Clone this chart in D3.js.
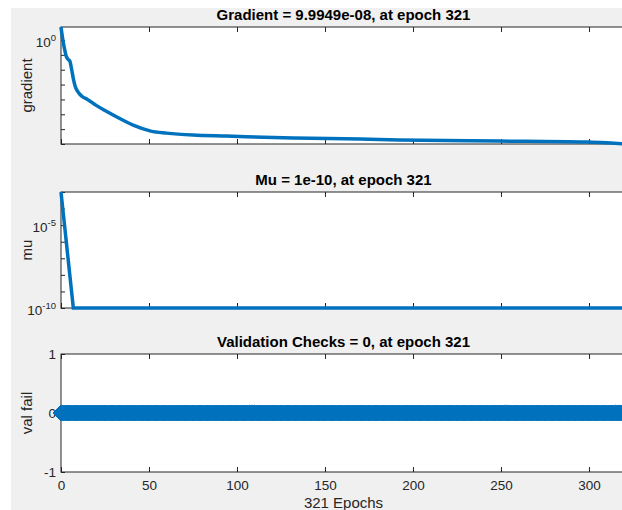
<!DOCTYPE html>
<html lang="en">
<head>
    <meta charset="UTF-8">
    <title>Training Performance</title>
    <script src="https://d3js.org/d3.v7.min.js"></script>
    <style>
        body { margin: 0; background: #fff; font-family: "Liberation Sans", Arial, sans-serif; }
        svg { display: block; }
        .title { font-weight: bold; font-size: 15px; fill: #000; }
        .ylabel, .xlabel { font-size: 15px; fill: #262626; }
        .tick text { font-family: "Liberation Sans", Arial, sans-serif; fill: #262626; }
        .tick line { stroke: #262626; }
    </style>
</head>
<body>
<div id="chart"></div>
<script>
    // ---- data ----
    const epochMax = 321;
    const xTicks = [0, 50, 100, 150, 200, 250, 300];

    const gradEpochs = [0, 1, 2, 3, 4, 5, 6, 7, 8, 10, 12, 15, 20, 25, 32, 41, 51, 60, 75, 94, 132, 170, 192, 249, 298, 321];
    const gradValues = [7.41, 1.12, 0.251, 0.0794, 0.0501, 0.038, 0.0112, 0.00251, 7.94e-4, 2.82e-4, 1.58e-4, 1e-4,
        3.98e-5, 1.78e-5, 6.3e-6, 1.86e-6, 7.4e-7, 5.4e-7, 3.98e-7, 3.4e-7, 2.5e-7, 2.14e-7, 1.86e-7, 1.58e-7, 1.35e-7, 9.9949e-8];

    const muEpochs = [0, 1, 2, 3, 4, 5, 6, 7, 321];
    const muValues = [1e-3, 1e-4, 1e-5, 1e-6, 1e-7, 1e-8, 1e-9, 1e-10, 1e-10];

    // one value per epoch, 0..321
    const valFail = [
        0,0,0,0,0,0,0,0,0,0, 0,0,0,0,0,0,0,0,0,0, 0,0,0,0,0,0,0,0,0,0, 0,0,0,0,0,0,0,0,0,0, 0,0,0,0,0,0,0,0,0,0,
        0,0,0,0,0,0,0,0,0,0, 0,0,0,0,0,0,0,0,0,0, 0,0,0,0,0,0,0,0,0,0, 0,0,0,0,0,0,0,0,0,0, 0,0,0,0,0,0,0,0,0,0,
        0,0,0,0,0,0,0,0,0,0, 0,0,0,0,0,0,0,0,0,0, 0,0,0,0,0,0,0,0,0,0, 0,0,0,0,0,0,0,0,0,0, 0,0,0,0,0,0,0,0,0,0,
        0,0,0,0,0,0,0,0,0,0, 0,0,0,0,0,0,0,0,0,0, 0,0,0,0,0,0,0,0,0,0, 0,0,0,0,0,0,0,0,0,0, 0,0,0,0,0,0,0,0,0,0,
        0,0,0,0,0,0,0,0,0,0, 0,0,0,0,0,0,0,0,0,0, 0,0,0,0,0,0,0,0,0,0, 0,0,0,0,0,0,0,0,0,0, 0,0,0,0,0,0,0,0,0,0,
        0,0,0,0,0,0,0,0,0,0, 0,0,0,0,0,0,0,0,0,0, 0,0,0,0,0,0,0,0,0,0, 0,0,0,0,0,0,0,0,0,0, 0,0,0,0,0,0,0,0,0,0,
        0,0,0,0,0,0,0,0,0,0, 0,0,0,0,0,0,0,0,0,0, 0,0
    ];

    const gradTicks = [1e-7, 1e-6, 1e-5, 1e-4, 1e-3, 1e-2, 1e-1, 1];
    const gradTickLabels = { 1: ["10", "0"] };
    const muTicks = [1e-10, 1e-9, 1e-8, 1e-7, 1e-6, 1e-5, 1e-4, 1e-3];
    const muTickLabels = { 1e-5: ["10", "-5"], 1e-10: ["10", "-10"] };
    const valTicks = [-1, 0, 1];

    const titles = ["Gradient = 9.9949e-08, at epoch 321", "Mu = 1e-10, at epoch 321", "Validation Checks = 0, at epoch 321"];
    const yLabels = ["gradient", "mu", "val fail"];

    // ---- layout ----
    const width = 622, height = 510;
    const blue = "#0072bd", axisCol = "#262626";
    const left = 61, right = 626;

    const svg = d3.select("#chart").append("svg")
        .attr("width", width)
        .attr("height", height);

    svg.append("rect")
        .attr("x", 11).attr("y", 8)
        .attr("width", width - 11).attr("height", height - 8)
        .attr("fill", "#f0f0f0");

    const x = d3.scaleLinear().domain([0, epochMax]).range([left, right]);

    const panels = [
        { top: 27, bottom: 144, y: d3.scaleLog().domain([9.9949e-8, 7.5]), ticks: gradTicks, labels: gradTickLabels },
        { top: 192, bottom: 308, y: d3.scaleLog().domain([1e-10, 1e-3]), ticks: muTicks, labels: muTickLabels },
        { top: 354, bottom: 472, y: d3.scaleLinear().domain([-1, 1]), ticks: valTicks, labels: null }
    ];

    panels.forEach((p, i) => {
        p.y.range([p.bottom, p.top]);
        const g = svg.append("g");

        g.append("rect")
            .attr("x", left).attr("y", p.top)
            .attr("width", right - left).attr("height", p.bottom - p.top)
            .attr("fill", "#fff")
            .attr("stroke", axisCol)
            .attr("stroke-width", 1);

        // x ticks, inward, top and bottom
        const isLast = i === panels.length - 1;
        const xb = g.append("g")
            .attr("transform", `translate(0,${p.bottom})`)
            .call(d3.axisBottom(x).tickValues(xTicks).tickSizeInner(-5).tickSizeOuter(0)
                .tickPadding(8).tickFormat(isLast ? d => String(d) : () => ""));
        xb.select(".domain").remove();
        xb.selectAll("text").style("font-size", "13.5px");

        const xt = g.append("g")
            .attr("transform", `translate(0,${p.top})`)
            .call(d3.axisTop(x).tickValues(xTicks).tickSizeInner(-5).tickSizeOuter(0).tickFormat(() => ""));
        xt.select(".domain").remove();

        // y ticks, inward, left and right
        const yl = g.append("g")
            .attr("transform", `translate(${left},0)`)
            .call(d3.axisLeft(p.y).tickValues(p.ticks).tickSizeOuter(0).tickPadding(5)
                .tickSizeInner(-4)
                .tickFormat(p.labels ? () => "" : d => String(d)));
        yl.select(".domain").remove();
        yl.selectAll("text").style("font-size", "13.5px");

        if (p.labels) {
            yl.selectAll(".tick text").each(function (d) {
                const lab = p.labels[d];
                if (!lab) return;
                const t = d3.select(this).attr("dy", "6.5");
                t.append("tspan").text(lab[0]);
                t.append("tspan").text(lab[1])
                    .attr("dy", -6)
                    .style("font-size", "9.5px");
            });
        }

        const yr = g.append("g")
            .attr("transform", `translate(${right},0)`)
            .call(d3.axisRight(p.y).tickValues(p.ticks).tickSizeOuter(0).tickSizeInner(-4).tickFormat(() => ""));
        yr.select(".domain").remove();

        g.append("text")
            .attr("class", "title")
            .attr("x", (left + right) / 2)
            .attr("y", p.top - 7)
            .attr("text-anchor", "middle")
            .text(titles[i]);

        g.append("text")
            .attr("class", "ylabel")
            .attr("transform", `translate(32,${(p.top + p.bottom) / 2}) rotate(-90)`)
            .attr("text-anchor", "middle")
            .text(yLabels[i]);
    });

    // gradient line
    const gp = panels[0];
    svg.append("path")
        .datum(gradEpochs.map((e, i) => [e, gradValues[i]]))
        .attr("fill", "none")
        .attr("stroke", blue)
        .attr("stroke-width", 3.5)
        .attr("stroke-linejoin", "round")
        .attr("d", d3.line().curve(d3.curveMonotoneX).x(d => x(d[0])).y(d => gp.y(d[1])));

    // mu line
    const mp = panels[1];
    svg.append("path")
        .datum(muEpochs.map((e, i) => [e, muValues[i]]))
        .attr("fill", "none")
        .attr("stroke", blue)
        .attr("stroke-width", 3.5)
        .attr("d", d3.line().x(d => x(d[0])).y(d => mp.y(d[1])));

    // validation fails: diamond markers at every epoch
    const vp = panels[2];
    const r = 8;
    svg.append("g")
        .selectAll("path")
        .data(valFail)
        .enter().append("path")
        .attr("transform", (d, i) => `translate(${x(i)},${vp.y(d)})`)
        .attr("d", `M0,${-r}L${r},0L0,${r}L${-r},0Z`)
        .attr("fill", blue)
        .attr("stroke", blue)
        .attr("stroke-width", 1);

    svg.append("text")
        .attr("class", "xlabel")
        .attr("x", (left + right) / 2)
        .attr("y", 508)
        .attr("text-anchor", "middle")
        .text(epochMax + " Epochs");
</script>
</body>
</html>
